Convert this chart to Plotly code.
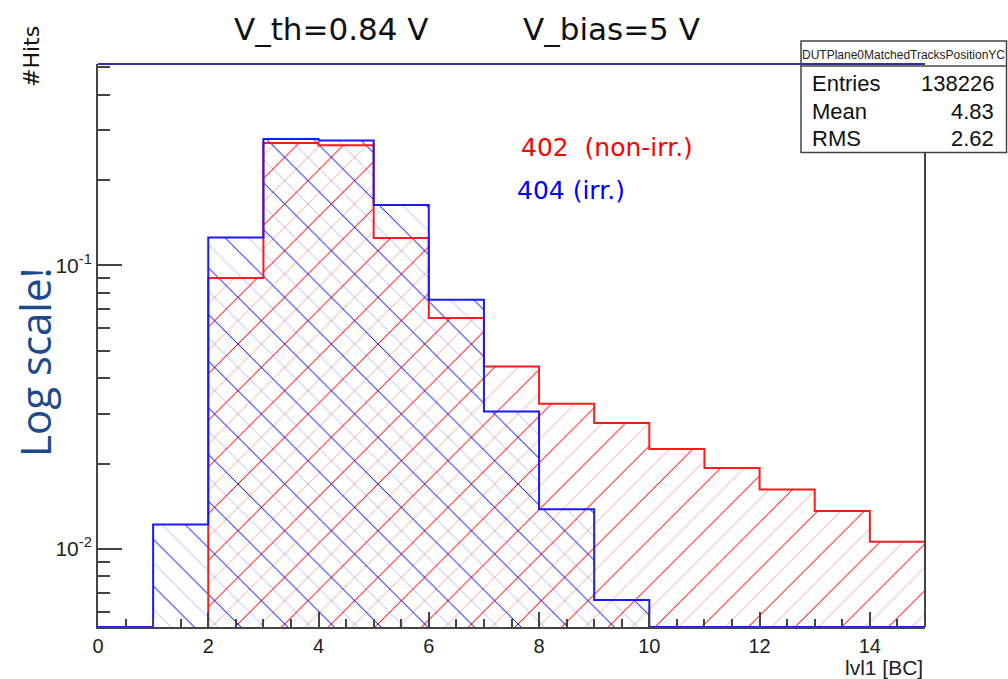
import plotly.graph_objects as go

# ---------------- data ----------------
bin_edges = list(range(0, 16))            # lvl1 [BC] bin edges 0..15
hits_402 = [0, 0, 0.0903, 0.270, 0.265, 0.125, 0.0652, 0.0440, 0.0325,
            0.0278, 0.0225, 0.0193, 0.0162, 0.0136, 0.0106]   # 402 (non-irr.)
hits_404 = [0, 0.0122, 0.1253, 0.279, 0.2756, 0.1634, 0.0757, 0.0305,
            0.0138, 0.0066, 0, 0, 0, 0, 0]                    # 404 (irr.)
x_ticks = [0, 2, 4, 6, 8, 10, 12, 14]
y_ticks = [0.01, 0.1]
y_tick_text = ["10<sup>-2</sup>", "10<sup>-1</sup>"]
stats_labels = ["Entries", "Mean", "RMS"]
stats_values = ["138226", "4.83", "2.62"]
stats_title = "DUTPlane0MatchedTracksPositionYC"

LOG_YMIN, LOG_YMAX = -2.2753, -0.2898
YMIN = 10 ** LOG_YMIN

centers = [(bin_edges[i] + bin_edges[i + 1]) / 2 for i in range(len(bin_edges) - 1)]
minor_y = [m * 10 ** d for d in (-3, -2, -1) for m in range(2, 10)]


def step_outline(values, from_first_nonzero):
    start = 0
    if from_first_nonzero:
        start = next(i for i, v in enumerate(values) if v > 0)
    xs, ys = [bin_edges[start]], [YMIN]
    for i in range(start, len(values)):
        lvl = values[i] if values[i] > 0 else YMIN
        xs += [bin_edges[i], bin_edges[i + 1]]
        ys += [lvl, lvl]
    return xs, ys


def hatch_bar(values, shape, color, size, solidity):
    return go.Bar(
        x=centers, y=[v if v > 0 else None for v in values], width=1,
        marker=dict(color="rgba(0,0,0,0)", line=dict(width=0),
                    pattern=dict(shape=shape, fgcolor=color, bgcolor="rgba(0,0,0,0)",
                                 size=size, solidity=solidity, fillmode="replace")),
        showlegend=False, hoverinfo="skip")


fig = go.Figure()
fig.add_trace(hatch_bar(hits_402, "/", "rgba(255,0,0,0.28)", 16.5, 0.06))
fig.add_trace(hatch_bar(hits_402, "/", "rgba(255,0,0,0.95)", 33, 0.03))
fig.add_trace(hatch_bar(hits_404, "\\", "rgba(0,0,255,0.22)", 16.5, 0.06))
fig.add_trace(hatch_bar(hits_404, "\\", "rgba(0,0,255,0.9)", 33, 0.03))

rx, ry = step_outline(hits_402, True)
fig.add_trace(go.Scatter(x=rx, y=ry, mode="lines", line=dict(color="#ff1a1a", width=2),
                         showlegend=False, hoverinfo="skip"))
bx, by = step_outline(hits_404, False)
fig.add_trace(go.Scatter(x=bx, y=by, mode="lines", line=dict(color="#1a1aff", width=2),
                         showlegend=False, hoverinfo="skip"))

L, R, T, B = 98, 83, 64, 52
W, H = 1008, 679
PW, PH = W - L - R, H - T - B


def px(xp):
    return (xp - L) / PW


def py(yp):
    return (H - B - yp) / PH


axis_col = "#444444"
fig.update_layout(
    width=W, height=H, margin=dict(l=L, r=R, t=T, b=B),
    paper_bgcolor="white", plot_bgcolor="white",
    barmode="overlay", bargap=0,
    xaxis=dict(range=[0, 15], tickvals=x_ticks, ticks="inside", ticklen=15, tickwidth=1.5,
               tickcolor=axis_col, showline=True, linecolor=axis_col, linewidth=2,
               showgrid=False, zeroline=False,
               tickfont=dict(family="Liberation Sans", size=20, color="#222"),
               minor=dict(dtick=0.5, tick0=0, ticks="inside", ticklen=8, tickwidth=1.5,
                          tickcolor=axis_col, showgrid=False)),
    yaxis=dict(type="log", range=[LOG_YMIN, LOG_YMAX], tickvals=y_ticks, ticktext=y_tick_text,
               ticks="inside", ticklen=24, tickwidth=1.5, tickcolor=axis_col,
               showline=True, linecolor=axis_col, linewidth=2, showgrid=False, zeroline=False,
               tickfont=dict(family="Liberation Sans", size=21, color="#222"),
               minor=dict(tickvals=minor_y, ticks="inside", ticklen=12, tickwidth=1.5,
                          tickcolor=axis_col, showgrid=False)),
)

shapes = [
    dict(type="line", xref="paper", yref="paper", x0=1, x1=1, y0=0, y1=1,
         line=dict(color=axis_col, width=2), layer="above"),
    dict(type="rect", xref="paper", yref="paper", x0=px(801), x1=px(1006.5), y0=py(152.5), y1=py(41),
         fillcolor="white", line=dict(color="#444", width=1.5), layer="above"),
    dict(type="line", xref="paper", yref="paper", x0=px(801), x1=px(1006.5), y0=py(66), y1=py(66),
         line=dict(color="#444", width=1.5), layer="above"),
    dict(type="line", xref="paper", yref="paper", x0=0, x1=1, y0=py(64), y1=py(64),
         line=dict(color="#3030a0", width=2), layer="above"),
]
fig.update_layout(shapes=shapes)

ann = []
dj = "DejaVu Sans"
ann.append(dict(text="V_th=0.84 V", x=px(232), y=py(29), xanchor="left", yanchor="middle",
                font=dict(family=dj, size=31, color="#111")))
ann.append(dict(text="V_bias=5 V", x=px(521), y=py(29), xanchor="left", yanchor="middle",
                font=dict(family=dj, size=31, color="#111")))
ann.append(dict(text="#Hits", x=px(31), y=py(57), textangle=-90, xanchor="center", yanchor="middle",
                font=dict(family=dj, size=22, color="#111")))
ann.append(dict(text="Log scale!", x=px(34), y=py(362), textangle=-90, xanchor="center",
                yanchor="middle", font=dict(family="Open Sans", size=42, color="#1d4a8a")))
ann.append(dict(text="402  (non-irr.)", x=px(519), y=py(147), xanchor="left", yanchor="middle",
                font=dict(family=dj, size=25, color="#ff0000")))
ann.append(dict(text="404 (irr.)", x=px(515), y=py(190), xanchor="left", yanchor="middle",
                font=dict(family=dj, size=25, color="#0000ff")))
ann.append(dict(text="lvl1 [BC]", x=px(925), y=py(667), xanchor="right", yanchor="middle",
                font=dict(family="Liberation Sans", size=21, color="#222")))
ann.append(dict(text=stats_title, x=px(903.5), y=py(55), xanchor="center", yanchor="middle",
                font=dict(family="Liberation Sans", size=12, color="#222")))
row_y = [83, 111, 138.5]
for lab, val, yy in zip(stats_labels, stats_values, row_y):
    ann.append(dict(text=lab, x=px(810), y=py(yy), xanchor="left", yanchor="middle",
                    font=dict(family="Liberation Sans", size=22, color="#111")))
    ann.append(dict(text=val, x=px(996), y=py(yy), xanchor="right", yanchor="middle",
                    font=dict(family="Liberation Sans", size=22, color="#111")))
for a in ann:
    a.update(xref="paper", yref="paper", showarrow=False)
fig.update_layout(annotations=ann)

fig.write_html("out.html")
